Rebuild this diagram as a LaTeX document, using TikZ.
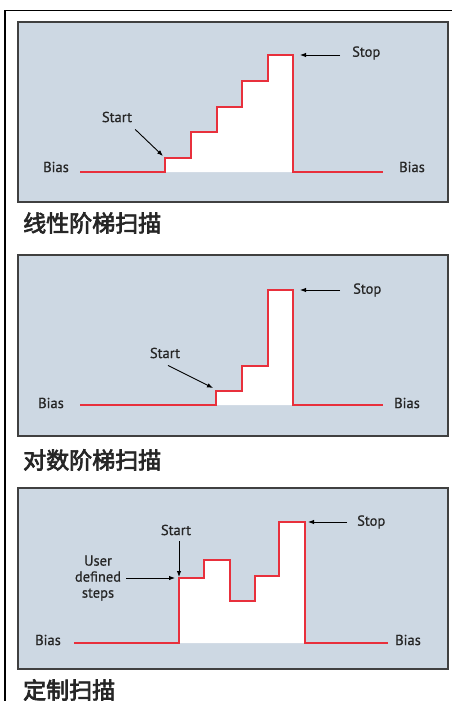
\documentclass[tikz,border=0pt]{standalone}
\usepackage{fontspec}
\setmainfont{PT Sans}[FakeBold=0.7]
\newfontfamily\cjk[AutoFakeBold=3]{Noto Sans CJK SC}
\usetikzlibrary{arrows.meta}
\definecolor{panelfill}{HTML}{CDD8E3}
\definecolor{panelline}{HTML}{404040}
\definecolor{sweep}{HTML}{E8303C}
\tikzset{
  panel/.style={draw=panelline, fill=panelfill, line width=1.4pt},
  sweepline/.style={draw=sweep, line width=1.4pt, line join=miter},
  lbl/.style={font=\fontsize{14.5}{16}\selectfont, inner sep=0pt, text=black!85},
  captxt/.style={font=\fontsize{23}{26}\selectfont\cjk\bfseries, inner sep=0pt, anchor=west, text=black!85},
  pointer/.style={draw=black, line width=0.9pt, -{Latex[length=6pt,width=4.5pt]}},
}
\begin{document}
\begin{tikzpicture}[x=1pt,y=-1pt]
\useasboundingbox (0,0) rectangle (452,701);
\fill[white] (0,0) rectangle (452,701);
% outer frame (left and top only)
\draw[line width=1.8pt] (5,701) -- (5,10.5) -- (452,10.5);

% ---------- panel 1: linear ----------
\draw[panel] (18,22) rectangle (448,202);
\fill[white] (165,172) -- (165,158) -- (191,158) -- (191,132) -- (217,132) -- (217,107) -- (242,107) -- (242,81) -- (268,81) -- (268,55) -- (293,55) -- (293,172) -- cycle;
\draw[sweepline] (80,172) -- (165,172) -- (165,158) -- (191,158) -- (191,132) -- (217,132) -- (217,107) -- (242,107) -- (242,81) -- (268,81) -- (268,55) -- (293,55) -- (293,172) -- (383,172);
\node[lbl] (biasL1) at (56,167) {Bias};
\node[lbl] (biasR1) at (412,167) {Bias};
\node[lbl] (start1) at (117,117) {Start};
\node[lbl, anchor=west] (stop1) at (352,53) {Stop};
\coordinate (startpt1) at (163,156);
\coordinate (stoppt1) at (300,55);
\draw[pointer] (start1.south east) ++(3,7) -- (startpt1);
\draw[pointer] (stop1.west) ++(-12,2) -- (stoppt1);
\node[captxt] (cap1) at (23,223) {线性阶梯扫描};

% ---------- panel 2: log ----------
\draw[panel] (18,255) rectangle (448,436);
\fill[white] (216,405) -- (216,391) -- (242,391) -- (242,366) -- (268,366) -- (268,290) -- (293,290) -- (293,405) -- cycle;
\draw[sweepline] (80,405) -- (216,405) -- (216,391) -- (242,391) -- (242,366) -- (268,366) -- (268,290) -- (293,290) -- (293,405) -- (383,405);
\node[lbl] (biasL2) at (51,403) {Bias};
\node[lbl] (biasR2) at (407,403) {Bias};
\node[lbl] (start2) at (165,353) {Start};
\node[lbl, anchor=west] (stop2) at (353,290) {Stop};
\coordinate (startpt2) at (213,388);
\coordinate (stoppt2) at (300,290);
\draw[pointer] (start2.south) ++(3,7) -- (startpt2);
\draw[pointer] (stop2.west) ++(-13,0) -- (stoppt2);
\node[captxt] (cap2) at (23,460) {对数阶梯扫描};

% ---------- panel 3: custom ----------
\draw[panel] (18,488) rectangle (448,669);
\fill[white] (179,643) -- (179,578) -- (204,578) -- (204,560) -- (230,560) -- (230,601) -- (255,601) -- (255,576) -- (279,576) -- (279,522) -- (305,522) -- (305,643) -- cycle;
\draw[sweepline] (74,643) -- (179,643) -- (179,578) -- (204,578) -- (204,560) -- (230,560) -- (230,601) -- (255,601) -- (255,576) -- (279,576) -- (279,522) -- (305,522) -- (305,643) -- (388,643);
\node[lbl] (biasL3) at (48,640) {Bias};
\node[lbl] (biasR3) at (408,640) {Bias};
\node[lbl] (start3) at (176,530) {Start};
\node[lbl, align=center, font=\fontsize{14.5}{16}\selectfont] (user3) at (98,578) {User\\defined\\steps};
\node[lbl, anchor=west] (stop3) at (357,522) {Stop};
\coordinate (startpt3) at (179,577);
\coordinate (userpt3) at (175,578);
\coordinate (stoppt3) at (308,522);
\draw[pointer] (start3.south) ++(3,6) -- (startpt3);
\draw[pointer] (user3.east) ++(5,0) -- (userpt3);
\draw[pointer] (stop3.west) ++(-10,0) -- (stoppt3);
\node[captxt] (cap3) at (23,690) {定制扫描};
\end{tikzpicture}
\end{document}
